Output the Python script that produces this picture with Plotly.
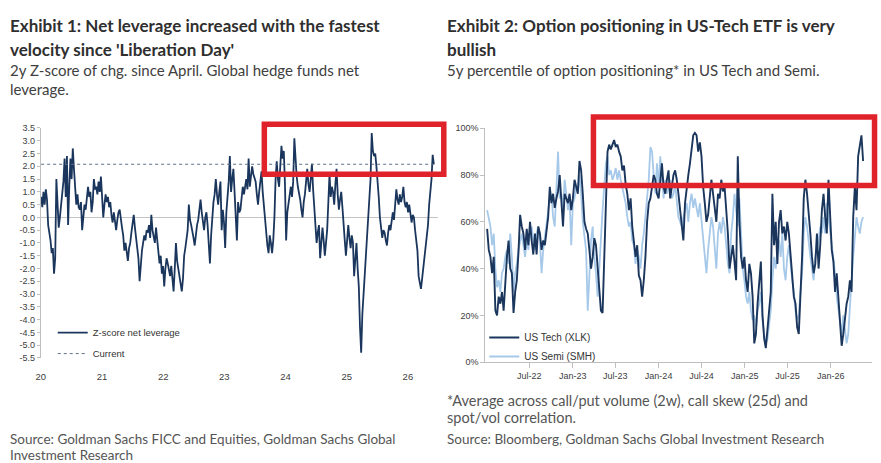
import pandas as pd
import plotly.graph_objects as go

# ---------------- Exhibit 1 data: weekly 2y Z-score of net leverage change ----------------
LEV_START = "2020-01-03"
LEV_Z = [
    0.8, 0.4, 1.0, 0.5, 1.1, 0.7, -0.3, -0.6, -0.9, -1.4, -1.2, -2.2, -1.6,
    1.5, 0.2, -0.4, 0.0, 0.5, 0.8, 1.4, 2.3, 0.8, 2.4, -0.3, 1.2, 2.3,
    1.5, 2.7, 1.9, 1.0, 0.5, 0.9, 0.4, 0.3, 0.6, -0.5, 0.2, 0.5, 0.3,
    0.9, 1.2, 0.8, 1.0, 0.2, 0.6, 1.5, 1.1, 1.2, 0.9, 1.4, 1.0, 1.6,
    0.8, 0.0, 0.5, 0.9, 0.6, 0.8, 0.4, 0.6, 0.1, -0.2, 0.2, -0.3, -0.5,
    -0.1, 0.2, 0.3, -0.2, -0.4, -0.7, -1.3, -1.0, -1.4, -1.7, -1.2, -1.0, -0.6,
    -0.3, 0.1, -0.4, -0.8, -1.2, -1.6, -2.5, -1.8, -1.3, -1.0, -0.7, -0.9, -0.5,
    -0.6, -0.3, -0.8, 0.1, -0.5, -0.7, -1.0, -0.4, -0.9, -1.3, -1.8, -1.5, -2.2,
    -1.9, -2.7, -2.0, -1.6, -1.8, -2.1, -2.3, -1.9, -2.5, -2.9, -2.0, -1.0, -1.7,
    -2.0, -2.2, -2.6, -2.9, -2.4, -1.5, -1.2, -0.8, -0.5, 0.5, -0.1, -0.3, -0.5,
    -0.8, -1.1, -0.6, -0.3, -0.1, 0.3, 0.7, 0.2, -0.2, -0.5, 0.0, 0.2, -0.3,
    -0.9, -1.8, -0.7, 0.1, 0.6, 0.9, 1.5, 0.9, 0.5, 1.0, 1.4, -0.5, 0.3,
    -0.2, -1.2, 0.2, 0.8, 1.4, 2.4, 1.0, 1.5, 1.9, 1.0, 0.0, -0.9, 0.6,
    0.2, 0.3, 0.8, 1.2, 0.9, 1.3, 1.5, 1.1, 2.3, 1.2, 1.6, 2.0, 1.7,
    1.5, 1.4, 0.9, 0.5, 1.0, 1.5, 1.8, 1.0, 0.4, 0.0, -0.6, -1.1, -1.4,
    -0.7, -1.0, -1.4, -0.9, 0.0, 1.5, 2.2, 1.5, 1.2, 2.0, 2.8, 2.3, 2.6,
    1.3, -0.9, 0.2, 0.6, 1.0, 1.2, 0.8, 1.4, 3.1, 2.0, 1.6, 1.2, 1.0,
    0.7, 0.3, 0.0, 0.6, 0.9, 1.4, 1.9, 1.3, 1.0, 1.5, 2.1, 1.1, 0.3,
    -0.4, -1.0, -0.6, -0.3, -1.6, -1.0, -0.4, -0.9, -1.5, -1.0, -0.5, 0.6, 1.7,
    0.8, 1.2, 1.0, 0.5, 1.3, 1.9, 0.9, 0.3, 0.7, 1.0, 0.4, -0.5, -0.9,
    -1.5, -0.8, -0.3, -0.8, -1.2, -0.7, -1.0, -2.3, -1.6, -1.0, -2.0, -2.7, -4.3,
    -5.3, -3.8, -3.0, -2.2, -1.5, -0.8, 0.0, 0.7, 1.5, 3.3, 2.6, 2.4, 2.5,
    2.0, 1.5, 0.8, 0.0, -0.4, -0.8, -0.5, -0.6, -0.9, -1.1, -0.6, -0.3, -0.5,
    -0.2, 0.2, -0.1, 0.6, 1.1, 0.7, 0.5, 0.9, 0.6, 0.8, 1.2, 0.6, 0.4,
    0.6, 0.2, 0.5, 0.1, -0.2, 0.1, 0.0, -0.5, -1.0, -1.3, -2.3, -2.5, -2.8,
    -2.4, -2.0, -1.4, -1.0, -0.6, -0.3, 0.5, 1.0, 1.5, 2.45, 2.08,
]
LEV_CURRENT = LEV_Z[-1]
Y1_TICKS = [-5.5, -5.0, -4.5, -4.0, -3.5, -3.0, -2.5, -2.0, -1.5, -1.0, -0.5,
            0.0, 0.5, 1.0, 1.5, 2.0, 2.5, 3.0, 3.5]
X1_TICKS = ["2020-01-01", "2021-01-01", "2022-01-01", "2023-01-01",
            "2024-01-01", "2025-01-01", "2026-01-01"]
X1_LABELS = ["20", "21", "22", "23", "24", "25", "26"]

# ---------------- Exhibit 2 data: weekly 5y percentile of option positioning (%) ----------------
OPT_START = "2022-01-03"
XLK = [
    57, 48, 45, 38, 45, 22, 20, 28, 25, 30, 22, 35, 45, 52, 40, 38, 21, 30, 35, 47,
    63, 58, 55, 48, 57, 50, 60, 52, 46, 55, 46, 58, 55, 48, 52, 50, 55, 62, 75, 68,
    72, 66, 70, 73, 80, 68, 58, 72, 70, 68, 72, 65, 70, 78, 75, 72, 86, 82, 72, 60,
    57, 55, 48, 40, 45, 53, 50, 40, 28, 22, 21, 45, 75, 90, 93, 91, 93, 95, 92, 93,
    90, 88, 82, 84, 76, 72, 65, 70, 58, 52, 45, 50, 37, 35, 28, 35, 45, 60, 68, 70,
    75, 80, 78, 72, 70, 78, 85, 75, 72, 78, 82, 70, 75, 80, 82, 78, 72, 65, 58, 52,
    68, 75, 80, 85, 92, 97, 98, 97, 90, 94, 88, 75, 68, 60, 63, 72, 78, 72, 65, 60,
    72, 70, 78, 73, 75, 65, 55, 40, 45, 50, 43, 35, 88, 60, 45, 40, 45, 35, 30, 42,
    38, 28, 8, 12, 25, 35, 43, 20, 10, 6, 15, 25, 30, 72, 50, 60, 42, 60, 65, 55,
    58, 52, 60, 55, 45, 38, 28, 25, 15, 12, 28, 45, 70, 78, 72, 65, 55, 45, 38, 42,
    55, 40, 50, 65, 72, 62, 55, 78, 65, 48, 43, 30, 38, 28, 15, 7, 12, 18, 25, 28,
    35, 30, 62, 75, 65, 88, 92, 97, 86,
]
SMH = [
    65, 62, 58, 50, 55, 40, 32, 35, 30, 38, 40, 45, 48, 42, 55, 45, 30, 38, 42, 48,
    52, 55, 50, 45, 52, 48, 55, 58, 52, 48, 55, 58, 52, 38, 48, 53, 58, 65, 70, 72,
    62, 58, 75, 90, 70, 72, 65, 78, 72, 65, 70, 50, 68, 70, 75, 73, 80, 72, 60, 55,
    48, 22, 35, 52, 58, 45, 38, 28, 40, 55, 65, 75, 85, 88, 80, 82, 78, 80, 83, 78,
    82, 78, 75, 72, 68, 62, 58, 60, 52, 50, 42, 48, 45, 40, 50, 55, 62, 72, 78, 92,
    90, 80, 72, 85, 75, 88, 80, 70, 78, 72, 75, 78, 70, 72, 76, 68, 62, 60, 58, 62,
    65, 68, 60, 68, 72, 66, 70, 65, 62, 68, 60, 52, 45, 38, 48, 55, 62, 58, 48, 40,
    55, 60, 55, 62, 58, 50, 42, 38, 55, 62, 72, 65, 58, 70, 55, 40, 35, 28, 25, 30,
    22, 18, 20, 15, 22, 25, 30, 18, 12, 8, 10, 15, 22, 35, 45, 40, 48, 52, 45, 55,
    40, 35, 45, 50, 42, 35, 30, 22, 18, 20, 30, 38, 55, 62, 58, 50, 45, 40, 35, 45,
    48, 52, 58, 55, 62, 55, 68, 62, 58, 52, 45, 38, 28, 22, 18, 12, 20, 15, 8, 12,
    25, 35, 45, 55, 62, 58, 55, 60, 62,
]
Y2_TICKS = [0, 20, 40, 60, 80, 100]
X2_TICKS = ["2022-07-01", "2023-01-01", "2023-07-01", "2024-01-01",
            "2024-07-01", "2025-01-01", "2025-07-01", "2026-01-01"]
X2_LABELS = ["Jul-22", "Jan-23", "Jul-23", "Jan-24", "Jul-24", "Jan-25", "Jul-25", "Jan-26"]

# ---------------- layout helpers (pixel -> paper) ----------------
W, H = 881, 463
def px(x):
    return x / W
def py(y):
    return 1 - y / H

NAVY = "#1b365d"
LIGHT = "#a7c9e9"
RED = "#e0232b"
AXIS = "#bfbfbf"
TICKFONT = dict(family="Liberation Sans, Arial, sans-serif", size=9, color="#404040")

lev_dates = pd.date_range(LEV_START, periods=len(LEV_Z), freq="7D")
opt_dates = pd.date_range(OPT_START, periods=len(XLK), freq="7D")

fig = go.Figure()
fig.add_trace(go.Scatter(x=lev_dates, y=LEV_Z, mode="lines", name="Z-score net leverage",
                         line=dict(color=NAVY, width=1.8), xaxis="x", yaxis="y",
                         legend="legend", legendgroup="a"))
fig.add_trace(go.Scatter(x=[lev_dates[0], lev_dates[-1]], y=[LEV_CURRENT, LEV_CURRENT],
                         mode="lines", name="Current",
                         line=dict(color="#5d6f88", width=1, dash="dot"), xaxis="x", yaxis="y",
                         legend="legend", legendgroup="b"))
fig.add_trace(go.Scatter(x=opt_dates, y=SMH, mode="lines", name="US Semi (SMH)",
                         line=dict(color=LIGHT, width=1.8), xaxis="x2", yaxis="y2",
                         legend="legend2"))
fig.add_trace(go.Scatter(x=opt_dates, y=XLK, mode="lines", name="US Tech (XLK)",
                         line=dict(color=NAVY, width=1.9), xaxis="x2", yaxis="y2",
                         legend="legend2"))

fig.update_layout(
    width=W, height=H, margin=dict(l=0, r=0, t=0, b=0),
    paper_bgcolor="white", plot_bgcolor="white",
    xaxis=dict(domain=[px(36), px(435)], type="date", range=["2020-01-01", "2026-06-27"],
               tickvals=X1_TICKS, ticktext=X1_LABELS, showline=False, ticks="",
               showgrid=False, zeroline=False, tickfont=dict(TICKFONT, size=9.5),
               ticklabelstandoff=12, anchor="y"),
    yaxis=dict(domain=[py(360.7), py(125.7)], range=[-5.5, 3.5], tickvals=Y1_TICKS,
               ticktext=[f"{v:.1f}" for v in Y1_TICKS], showline=True, linecolor=AXIS,
               ticks="outside", ticklen=3, tickcolor=AXIS, showgrid=False,
               zeroline=True, zerolinecolor="#c4c4c4", zerolinewidth=1,
               tickfont=TICKFONT, anchor="x"),
    xaxis2=dict(domain=[px(483), px(872)], type="date", range=["2021-12-26", "2026-06-25"],
                tickvals=X2_TICKS, ticktext=X2_LABELS, showline=True, linecolor=AXIS,
                ticks="outside", ticklen=5, tickcolor=AXIS, showgrid=False, zeroline=False,
                tickfont=TICKFONT, anchor="y2"),
    yaxis2=dict(domain=[py(365), py(126)], range=[0, 100], tickvals=Y2_TICKS,
                ticktext=[f"{v}%" for v in Y2_TICKS],
                showline=True, linecolor=AXIS, ticks="outside", ticklen=4, tickcolor=AXIS,
                showgrid=False, zeroline=False, tickfont=TICKFONT, anchor="x2"),
    legend=dict(x=px(48), y=py(320), xanchor="left", yanchor="top", bgcolor="rgba(0,0,0,0)",
                font=dict(family="Liberation Sans, Arial, sans-serif", size=9.5, color="#333"),
                traceorder="grouped", tracegroupgap=2),
    legend2=dict(x=px(482), y=py(325), xanchor="left", yanchor="top", bgcolor="rgba(0,0,0,0)",
                 font=dict(family="Liberation Sans, Arial, sans-serif", size=10, color="#333"),
                 traceorder="reversed"),
)

# red highlight boxes
for (x0, y0, x1, y1) in [(260.8, 122.0, 441.3, 173.0), (591.8, 114.5, 874.5, 184.5)]:
    fig.add_shape(type="rect", xref="paper", yref="paper", x0=px(x0), x1=px(x1),
                  y0=py(y1), y1=py(y0), line=dict(color=RED, width=5.5),
                  fillcolor="rgba(0,0,0,0)", layer="above")

TITLE = dict(family="Lato, sans-serif", size=17, color="#2f2f2f", weight="bold")
SUB = dict(family="Lato, sans-serif", size=15, color="#404040")
NOTE = dict(family="Lato, sans-serif", size=13.5, color="#555555")
texts = [
    (8, 21, "Exhibit 1: Net leverage increased with the fastest", TITLE),
    (8, 45, "velocity since 'Liberation Day'", TITLE),
    (8, 66, "2y Z-score of chg. since April. Global hedge funds net", SUB),
    (8, 86, "leverage.", SUB),
    (448, 21, "Exhibit 2: Option positioning in US-Tech ETF is very", TITLE),
    (448, 45, "bullish", TITLE),
    (448, 66, "5y percentile of option positioning* in US Tech and Semi.", SUB),
    (448, 404, "*Average across call/put volume (2w), call skew (25d) and", dict(NOTE, size=14.5)),
    (448, 422, "spot/vol correlation.", dict(NOTE, size=14.5)),
    (448, 444, "Source: Bloomberg, Goldman Sachs Global Investment Research", NOTE),
    (8, 444, "Source: Goldman Sachs FICC and Equities, Goldman Sachs Global", NOTE),
    (8, 460, "Investment Research", NOTE),
]
for x, y, t, f in texts:
    fig.add_annotation(x=px(x), y=py(y), xref="paper", yref="paper", text=t, showarrow=False,
                       xanchor="left", yanchor="middle", font=f, xshift=-5)

fig.write_html("out.html")
